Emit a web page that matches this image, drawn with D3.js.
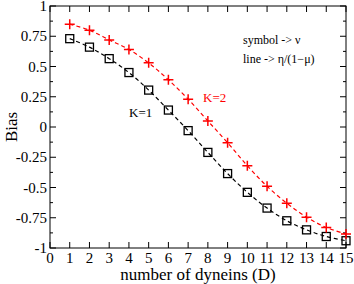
<!DOCTYPE html>
<html>
<head>
<meta charset="utf-8">
<script src="https://cdn.jsdelivr.net/npm/d3@7"></script>
<style>
  body { margin: 0; background: #fff; }
  text { font-family: "Liberation Serif", "Times New Roman", serif; }
</style>
</head>
<body>
<svg id="chart"></svg>
<script>
// number of dyneins
var dyneins = [1, 2, 3, 4, 5, 6, 7, 8, 9, 10, 11, 12, 13, 14, 15];
// bias values
var biasK1 = [0.73, 0.66, 0.565, 0.45, 0.305, 0.14, -0.03, -0.21, -0.385, -0.54, -0.67, -0.775, -0.85, -0.905, -0.94];
var biasK2 = [0.85, 0.80, 0.72, 0.64, 0.53, 0.39, 0.23, 0.05, -0.13, -0.32, -0.49, -0.63, -0.745, -0.83, -0.885];
var xTicks = d3.range(0, 16);
var yTicks = [-1, -0.75, -0.5, -0.25, 0, 0.25, 0.5, 0.75, 1];

var width = 354, height = 284;
var margin = { top: 6, right: 8, bottom: 36, left: 50 };

var svg = d3.select("#chart")
    .attr("width", width)
    .attr("height", height);

var x = d3.scaleLinear().domain([0, 15]).range([margin.left, width - margin.right]);
var y = d3.scaleLinear().domain([-1, 1]).range([height - margin.bottom, margin.top]);

var minorY = d3.range(-1, 1.001, 0.125);

// frame
svg.append("rect")
    .attr("x", x(0)).attr("y", y(1))
    .attr("width", x(15) - x(0)).attr("height", y(-1) - y(1))
    .attr("fill", "none").attr("stroke", "#000").attr("stroke-width", 1);

// ticks, pointing inward on all four sides
var tickG = svg.append("g").attr("stroke", "#000").attr("stroke-width", 1);
xTicks.forEach(function (t) {
    tickG.append("line").attr("x1", x(t)).attr("x2", x(t)).attr("y1", y(-1)).attr("y2", y(-1) - 6);
    tickG.append("line").attr("x1", x(t)).attr("x2", x(t)).attr("y1", y(1)).attr("y2", y(1) + 6);
});
minorY.forEach(function (t, i) {
    var len = i % 2 === 0 ? 6 : 3;
    tickG.append("line").attr("x1", x(0)).attr("x2", x(0) + len).attr("y1", y(t)).attr("y2", y(t));
    tickG.append("line").attr("x1", x(15)).attr("x2", x(15) - len).attr("y1", y(t)).attr("y2", y(t));
});

// tick labels
svg.append("g").selectAll("text")
    .data(xTicks)
    .enter()
    .append("text")
    .attr("x", function (d) { return x(d); })
    .attr("y", y(-1) + 15)
    .attr("text-anchor", "middle")
    .style("font-size", "15px")
    .text(function (d) { return d; });

svg.append("g").selectAll("text")
    .data(yTicks)
    .enter()
    .append("text")
    .attr("x", x(0) - 3)
    .attr("y", function (d) { return y(d) + 5; })
    .attr("text-anchor", "end")
    .style("font-size", "15px")
    .text(function (d) { return d === -1 ? "-1" : String(d).replace(/^(-?)0\./, "$10."); });

// axis titles
svg.append("text")
    .attr("x", (x(0) + x(15)) / 2)
    .attr("y", height - 4)
    .attr("text-anchor", "middle")
    .style("font-size", "17px")
    .text("number of dyneins (D)");

svg.append("text")
    .attr("transform", "translate(17," + y(0) + ") rotate(-90)")
    .attr("text-anchor", "middle")
    .style("font-size", "17px")
    .text("Bias");

// dashed curves
var line = d3.line()
    .x(function (d) { return x(d[0]); })
    .y(function (d) { return y(d[1]); })
    .curve(d3.curveCatmullRom);

var series = [
    { name: "K=1", values: biasK1, color: "#000" },
    { name: "K=2", values: biasK2, color: "#ff0000" }
];

series.forEach(function (s) {
    var pts = d3.zip(dyneins, s.values);
    svg.append("path")
        .datum(pts)
        .attr("d", line)
        .attr("fill", "none")
        .attr("stroke", s.color)
        .attr("stroke-width", 1.2)
        .attr("stroke-dasharray", "4,3");
});

// square symbols for K=1
svg.append("g").selectAll("rect")
    .data(d3.zip(dyneins, biasK1))
    .enter()
    .append("rect")
    .attr("x", function (d) { return x(d[0]) - 4; })
    .attr("y", function (d) { return y(d[1]) - 4; })
    .attr("width", 8).attr("height", 8)
    .attr("fill", "none")
    .attr("stroke", "#000")
    .attr("stroke-width", 1.3);

// plus symbols for K=2
svg.append("g").selectAll("path")
    .data(d3.zip(dyneins, biasK2))
    .enter()
    .append("path")
    .attr("d", function (d) {
        var cx = x(d[0]), cy = y(d[1]);
        return "M" + (cx - 5) + "," + cy + "H" + (cx + 5) + "M" + cx + "," + (cy - 5) + "V" + (cy + 5);
    })
    .attr("stroke", "#ff0000")
    .attr("stroke-width", 1.5);

// annotations
svg.append("text").attr("x", 129).attr("y", 117)
    .style("font-size", "13px").text("K=1");
svg.append("text").attr("x", 203).attr("y", 102)
    .style("font-size", "13px").attr("fill", "#ff0000").text("K=2");
svg.append("text").attr("x", 243).attr("y", 44)
    .style("font-size", "12px").text("symbol  ->  \u03bd");
svg.append("text").attr("x", 243).attr("y", 63)
    .style("font-size", "12px").text("line  ->  \u03b7/(1\u2212\u03bc)");
</script>
</body>
</html>
